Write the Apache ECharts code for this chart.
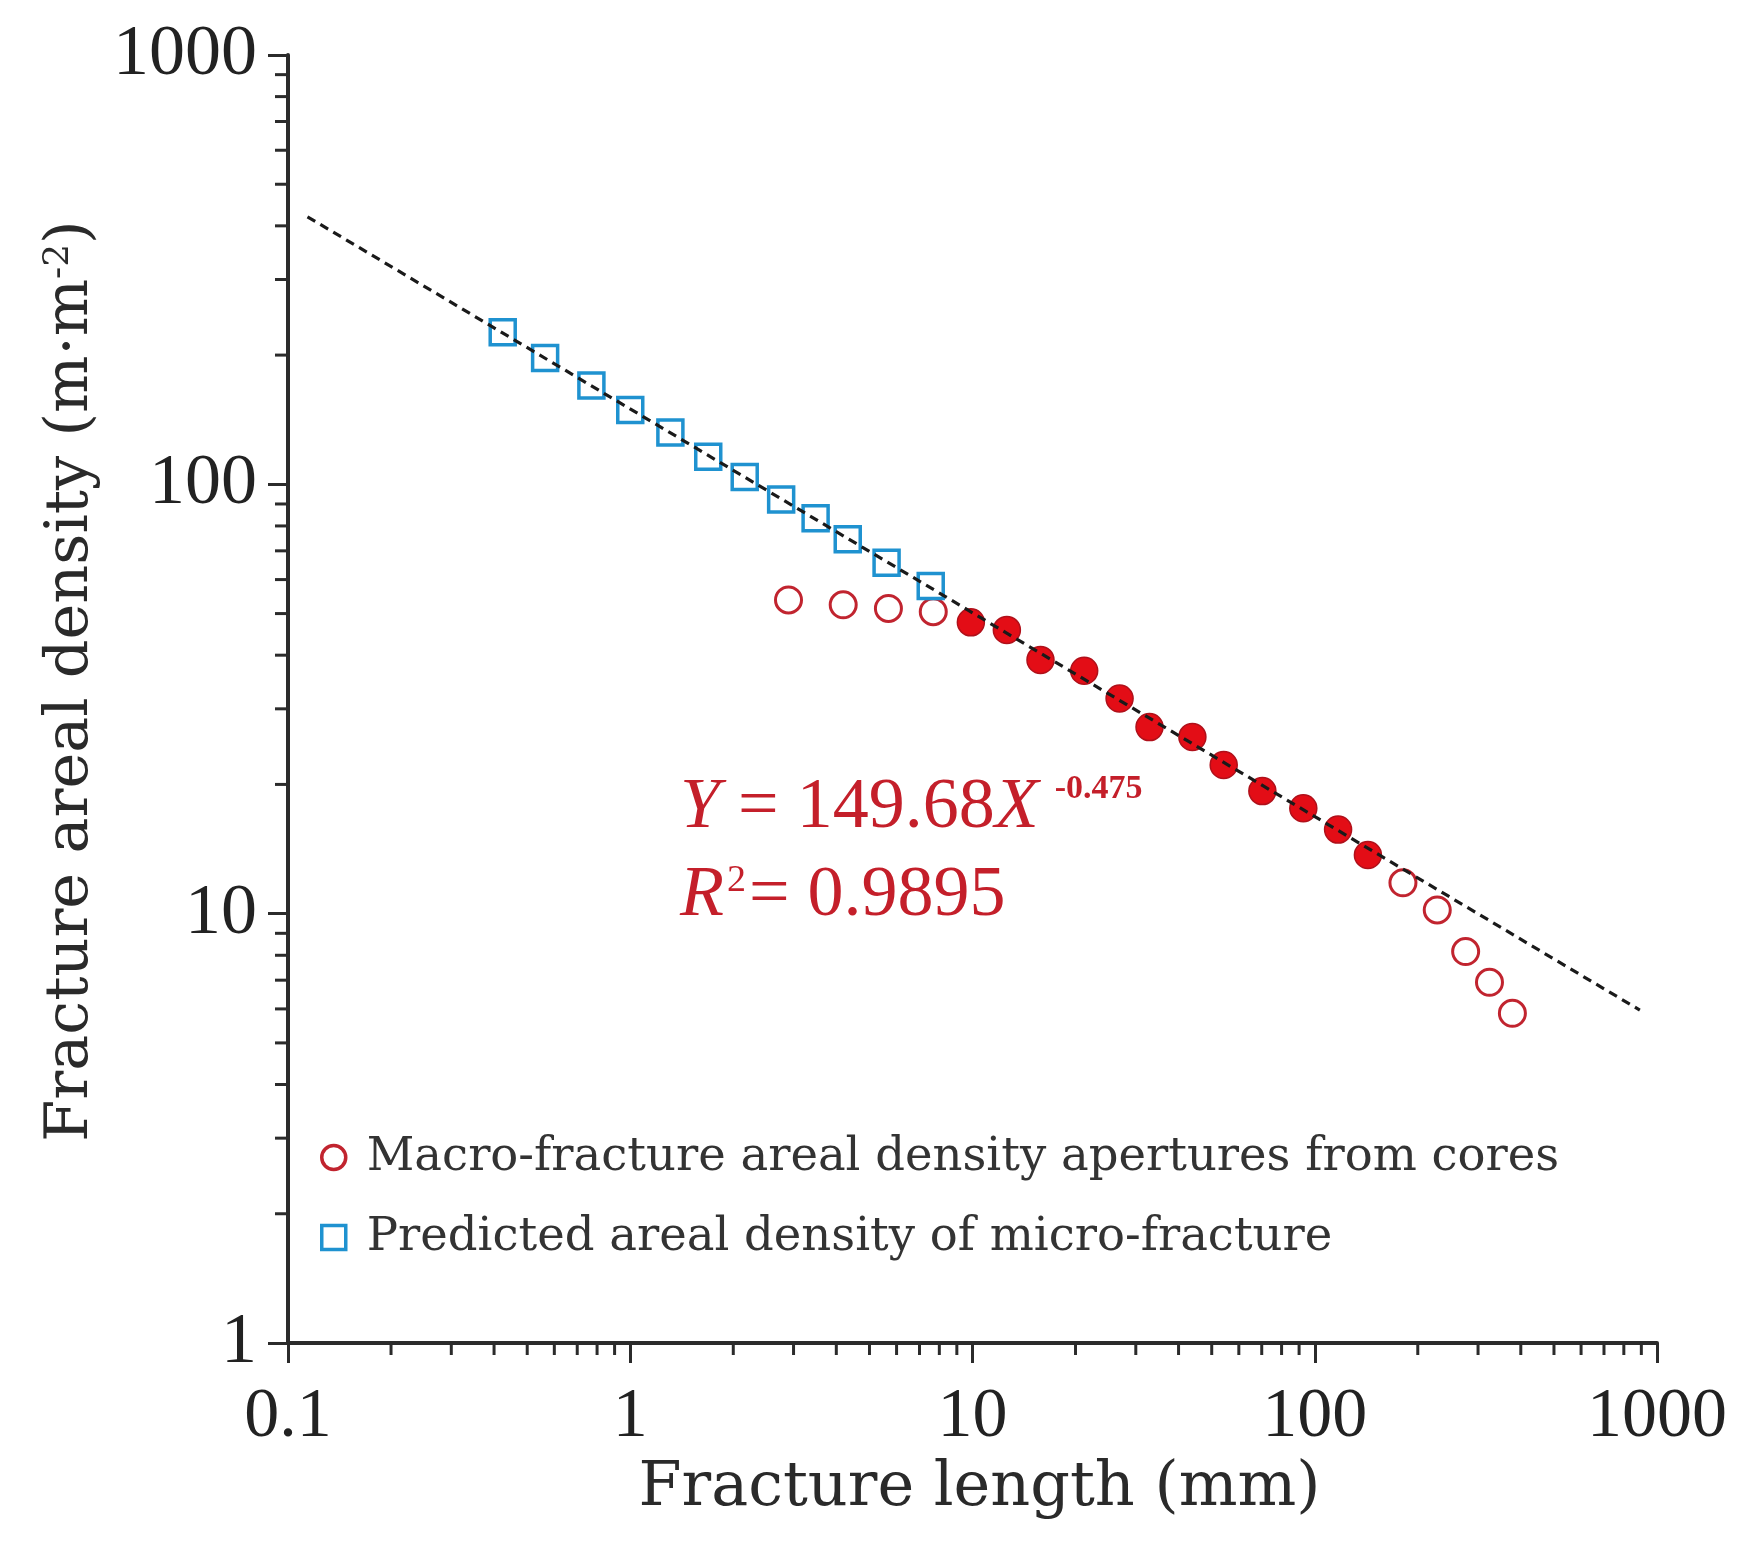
<!DOCTYPE html>
<html>
<head>
<meta charset="utf-8">
<script src="https://cdn.jsdelivr.net/npm/echarts@6/dist/echarts.min.js"></script>
<style>
  html, body { margin: 0; padding: 0; background: #fff; }
  #chart { width: 1737px; height: 1547px; }
</style>
</head>
<body>
<div id="chart"></div>
<script>
// predicted micro-fracture points (blue squares)
var microLength = [0.424, 0.564, 0.77, 1.0, 1.31, 1.69, 2.16, 2.76, 3.48, 4.32, 5.61, 7.55];
var microDensity = [226, 197, 170, 149, 132, 116, 104, 92.2, 83.4, 74.5, 65.7, 58.0];

// macro-fracture points from cores: open circles (not used in fit)
var macroOpenLength = [2.9, 4.19, 5.68, 7.68, 181, 228, 276, 324, 378];
var macroOpenDensity = [53.8, 52.4, 51.4, 50.5, 11.8, 10.2, 8.16, 6.92, 5.86];

// macro-fracture points used in the fit: filled circles
var macroFitLength = [9.89, 12.6, 15.8, 21.2, 26.9, 32.9, 43.9, 54.2, 70.3, 92.6, 117, 143];
var macroFitDensity = [47.7, 45.8, 39.0, 36.8, 31.7, 27.2, 25.8, 22.2, 19.3, 17.6, 15.7, 13.7];

// fitted power law, drawn between its two visible ends
var fitLength = [0.114, 891];
var fitDensity = [420, 5.96];

// minor ticks
var xMinorTicks = [0.2, 0.3, 0.4, 0.5, 0.6, 0.7, 0.8, 0.9,
                   2, 3, 4, 5, 6, 7, 8, 9,
                   20, 30, 40, 50, 60, 70, 80, 90,
                   200, 300, 400, 500, 600, 700, 800, 900];
var yMinorTicks = [2, 3, 4, 5, 6, 7, 8, 9,
                   20, 30, 40, 50, 60, 70, 80, 90,
                   200, 300, 400, 500, 600, 700, 800, 900];

var X_MIN = 0.1, X_MAX = 1000, Y_MIN = 1, Y_MAX = 1000;

var MACRO_NAME = 'Macro-fracture areal density apertures from cores';
var MICRO_NAME = 'Predicted areal density of micro-fracture';

var axisColor = '#2b2b2b';
var textFont = '"DejaVu Serif", serif';
var numFont = '"Liberation Serif", "Times New Roman", serif';
var eqRed = '#c41f2a';

function pairs(xs, ys) {
  return xs.map(function (x, i) { return [x, ys[i]]; });
}

function fmt(v) {
  return String(+(+v).toPrecision(4));
}

var chart = echarts.init(document.getElementById('chart'));

chart.setOption({
  backgroundColor: '#fff',
  animation: false,
  grid: { left: 288, right: 80, top: 55, bottom: 204 },
  legend: {
    orient: 'vertical',
    left: 315,
    top: 1129,
    itemWidth: 24,
    itemHeight: 24,
    itemGap: 33,
    selectedMode: false,
    itemStyle: { borderWidth: 3.5 },
    data: [
      { name: MACRO_NAME, icon: 'circle' },
      { name: MICRO_NAME, icon: 'rect' }
    ],
    textStyle: { fontFamily: textFont, fontSize: 46.5, color: '#333', padding: [0, 0, 0, 16] }
  },
  xAxis: {
    type: 'log',
    logBase: 10,
    min: X_MIN,
    max: X_MAX,
    splitLine: { show: false },
    axisLine: { show: true, onZero: false, lineStyle: { color: axisColor, width: 4 } },
    axisTick: { show: true, inside: false, length: 20, lineStyle: { color: axisColor, width: 3 } },
    axisLabel: {
      margin: 40,
      fontFamily: numFont,
      fontSize: 70,
      color: '#222',
      formatter: fmt
    },
    name: 'Fracture length (mm)',
    nameLocation: 'middle',
    nameGap: 106,
    nameTextStyle: { fontFamily: textFont, fontSize: 62, color: '#2a2a2a', padding: [0, 0, 0, 14] }
  },
  yAxis: {
    type: 'log',
    logBase: 10,
    min: Y_MIN,
    max: Y_MAX,
    splitLine: { show: false },
    axisLine: { show: true, onZero: false, lineStyle: { color: axisColor, width: 4 } },
    axisTick: { show: true, inside: false, length: 20, lineStyle: { color: axisColor, width: 3 } },
    axisLabel: {
      margin: 31,
      fontFamily: numFont,
      fontSize: 72,
      color: '#222',
      formatter: fmt
    },
    name: 'Fracture areal density (m·m{sup|-2})',
    nameLocation: 'middle',
    nameGap: 182,
    nameTextStyle: {
      fontFamily: textFont,
      fontSize: 60.5,
      color: '#2a2a2a',
      padding: [0, 0, 0, 36],
      rich: {
        sup: { fontFamily: textFont, fontSize: 36, color: '#2a2a2a', verticalAlign: 'top', lineHeight: 60 }
      }
    }
  },
  graphic: [
    {
      type: 'text',
      left: 680,
      top: 764,
      silent: true,
      style: {
        text: '{i|Y} = 149.68{i|X}{sup|-0.475}\n{i|R}{sup2|2}= 0.9895',
        fontFamily: numFont,
        fontSize: 72,
        lineHeight: 88,
        fill: eqRed,
        rich: {
          i: { fontFamily: numFont, fontSize: 72, fontStyle: 'italic', fill: eqRed, lineHeight: 88 },
          sup: { fontFamily: numFont, fontSize: 34, fontWeight: 'bold', fill: eqRed, verticalAlign: 'top', padding: [8, 0, 0, 16], lineHeight: 88 },
          sup2: { fontFamily: numFont, fontSize: 38, fill: eqRed, verticalAlign: 'top', padding: [10, 3, 0, 3], lineHeight: 88 }
        }
      }
    }
  ],
  series: [
    {
      name: MACRO_NAME,
      type: 'scatter',
      symbol: 'circle',
      symbolSize: 26,
      z: 3,
      itemStyle: { color: '#ffffff', borderColor: '#c1242f', borderWidth: 3, opacity: 1 },
      data: pairs(macroOpenLength, macroOpenDensity)
    },
    {
      name: 'Macro-fracture (fitted)',
      type: 'scatter',
      symbol: 'circle',
      symbolSize: 27,
      z: 3,
      itemStyle: { color: '#e30d16', borderColor: '#b0101a', borderWidth: 1.5, opacity: 1 },
      data: pairs(macroFitLength, macroFitDensity)
    },
    {
      name: MICRO_NAME,
      type: 'scatter',
      symbol: 'rect',
      symbolSize: 25,
      z: 3,
      itemStyle: { color: '#ffffff', borderColor: '#1f92d0', borderWidth: 3.5, opacity: 1 },
      data: pairs(microLength, microDensity)
    },
    {
      name: 'Power-law fit',
      type: 'line',
      symbol: 'none',
      z: 5,
      silent: true,
      lineStyle: { color: '#1a1a1a', width: 3.2, type: [9, 6] },
      data: pairs(fitLength, fitDensity)
    },
    {
      name: 'x minor ticks',
      type: 'custom',
      silent: true,
      clip: false,
      z: 6,
      data: xMinorTicks.map(function (v) { return [v, Y_MIN]; }),
      renderItem: function (params, api) {
        var p = api.coord([api.value(0), api.value(1)]);
        return {
          type: 'line',
          shape: { x1: p[0], y1: p[1], x2: p[0], y2: p[1] + 12 },
          style: { stroke: axisColor, lineWidth: 3 }
        };
      }
    },
    {
      name: 'y minor ticks',
      type: 'custom',
      silent: true,
      clip: false,
      z: 6,
      data: yMinorTicks.map(function (v) { return [X_MIN, v]; }),
      renderItem: function (params, api) {
        var p = api.coord([api.value(0), api.value(1)]);
        return {
          type: 'line',
          shape: { x1: p[0] - 13, y1: p[1], x2: p[0], y2: p[1] },
          style: { stroke: axisColor, lineWidth: 3 }
        };
      }
    }
  ]
});
</script>
</body>
</html>
